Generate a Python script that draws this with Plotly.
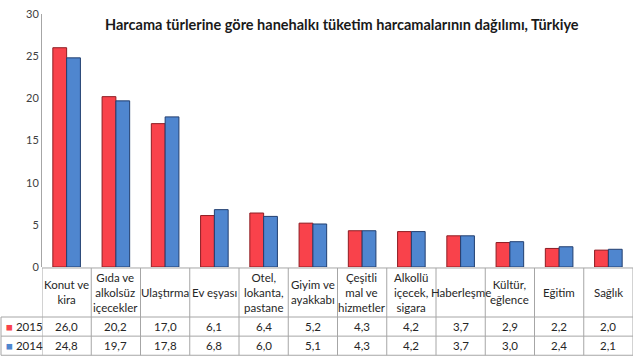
import plotly.graph_objects as go

categories = ["Konut ve<br>kira", "Gıda ve<br>alkolsüz<br>içecekler", "Ulaştırma", "Ev eşyası",
              "Otel,<br>lokanta,<br>pastane", "Giyim ve<br>ayakkabı", "Çeşitli<br>mal ve<br>hizmetler",
              "Alkollü<br>içecek,<br>sigara", "Haberleşme", "Kültür,<br>eğlence", "Eğitim", "Sağlık"]
values_2015 = [26.0, 20.2, 17.0, 6.1, 6.4, 5.2, 4.3, 4.2, 3.7, 2.9, 2.2, 2.0]
values_2014 = [24.8, 19.7, 17.8, 6.8, 6.0, 5.1, 4.3, 4.2, 3.7, 3.0, 2.4, 2.1]
series_names = ["2015", "2014"]
y_ticks = [0, 5, 10, 15, 20, 25, 30]
title = "Harcama türlerine göre hanehalkı tüketim harcamalarının dağılımı, Türkiye"

W, H = 640, 363
L, R, T, B = 42, 633, 9, 267
colors = ["#F9424B", "#4F86CF"]
edges = ["#8E1C22", "#223F70"]

def py(px):
    return (B - px) / (B - T)

def pxx(px):
    return (px - L) / (R - L)

n = len(categories)
xs = list(range(n))
fig = go.Figure()
for name, vals, c, e in zip(series_names, [values_2015, values_2014], colors, edges):
    fig.add_trace(go.Bar(x=xs, y=vals, name=name, marker=dict(color=c, line=dict(color=e, width=1)),
                         showlegend=False, hoverinfo="skip"))

shapes = []
grid = dict(color="#A6A6A6", width=1)
shapes.append(dict(type="line", xref="paper", yref="paper", x0=0, x1=1, y0=py(268), y1=py(268), line=grid))
for yy in [318, 337.5, 357]:
    shapes.append(dict(type="line", xref="paper", yref="paper", x0=pxx(1), x1=1, y0=py(yy), y1=py(yy), line=grid))
for i in range(n + 1):
    shapes.append(dict(type="line", xref="x", yref="paper", x0=i - 0.5, x1=i - 0.5, y0=py(268), y1=py(357), line=grid))
shapes.append(dict(type="line", xref="paper", yref="paper", x0=pxx(1), x1=pxx(1), y0=py(318), y1=py(357), line=grid))

annotations = []
font_tbl = dict(family="Lato, Carlito, sans-serif", size=11.5, color="#262626")
for i, cat in enumerate(categories):
    annotations.append(dict(x=i, y=py(293), xref="x", yref="paper", text=cat, showarrow=False,
                            font=font_tbl, align="center", yanchor="middle"))
    annotations.append(dict(x=i, y=py(327.5), xref="x", yref="paper", text=f"{values_2015[i]:.1f}".replace(".", ","),
                            showarrow=False, font=font_tbl, yanchor="middle"))
    annotations.append(dict(x=i, y=py(347), xref="x", yref="paper", text=f"{values_2014[i]:.1f}".replace(".", ","),
                            showarrow=False, font=font_tbl, yanchor="middle"))
for name, yy, c in zip(series_names, [327.5, 347], colors):
    annotations.append(dict(x=pxx(4), y=py(yy), xref="paper", yref="paper", xanchor="left", yanchor="middle",
                            text=f"<span style='color:{c}'>■</span> {name}", showarrow=False, font=font_tbl))
annotations.append(dict(x=pxx(342), y=py(20), xref="paper", yref="paper", text=f"<b>{title}</b>", showarrow=False,
                        font=dict(family="Lato, Carlito, sans-serif", size=14.5, color="#1a1a1a"),
                        xanchor="center", yanchor="middle"))

fig.update_layout(
    width=W, height=H, margin=dict(l=L, r=W - R, t=T, b=H - B),
    plot_bgcolor="white", paper_bgcolor="white",
    barmode="group", bargap=0.44, bargroupgap=0.0,
    xaxis=dict(range=[-0.5, n - 0.5], showticklabels=False, showgrid=False, zeroline=False, showline=False, ticks=""),
    yaxis=dict(range=[0, 30], tickvals=y_ticks, showgrid=False, zeroline=False, showline=True,
               linecolor="#A6A6A6", linewidth=1, ticks="", ticklen=0,
               tickfont=dict(family="Lato, Carlito, sans-serif", size=11, color="#404040")),
    shapes=shapes, annotations=annotations,
)
fig.write_html("out.html", config={"displayModeBar": False},
               post_script="document.body.style.margin='0';document.body.style.padding='0';")
